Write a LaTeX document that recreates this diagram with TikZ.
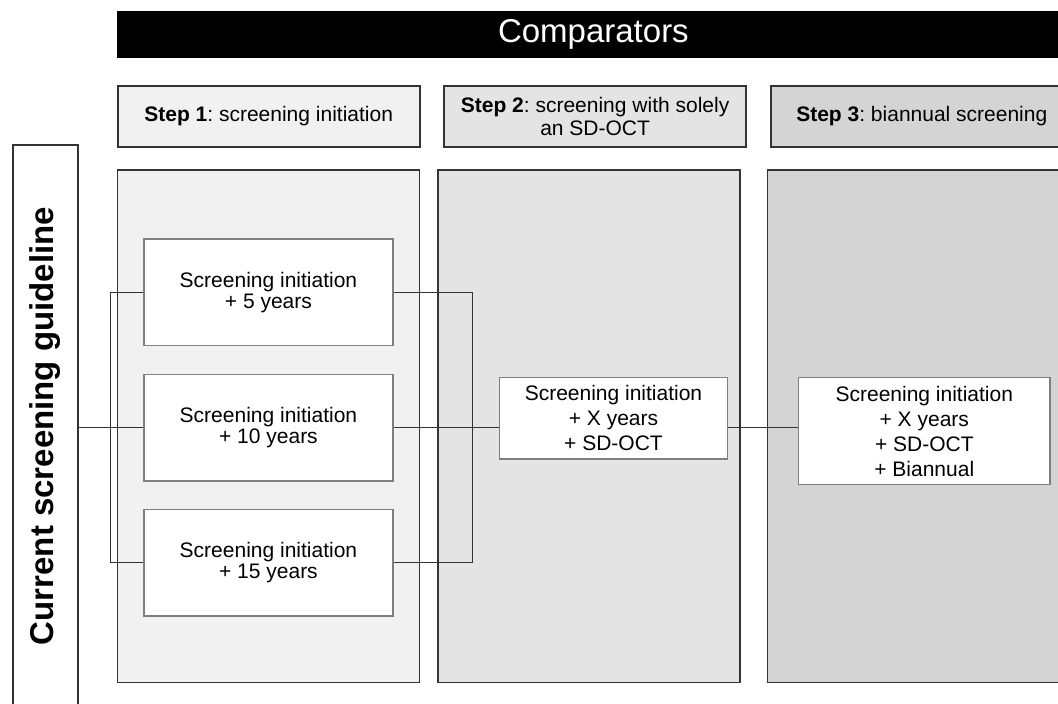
\documentclass[tikz,border=0pt]{standalone}
\usepackage{fontspec}
\setmainfont{Liberation Sans}
\frenchspacing
\usetikzlibrary{positioning}
\definecolor{stepone}{HTML}{F1F1F1}
\definecolor{steptwo}{HTML}{E4E4E4}
\definecolor{stepthree}{HTML}{D4D4D4}
\definecolor{edge}{HTML}{333333}
\definecolor{inneredge}{HTML}{7F7F7F}
\tikzset{head/.style={draw=edge, line width=2pt, inner sep=0pt,
    minimum width=302pt, minimum height=61pt, align=center,
    font=\fontsize{21}{23}\selectfont},
    column/.style={draw=edge, line width=1.6pt, inner sep=0pt,
    minimum width=302pt, minimum height=512.7pt, anchor=north west},
    option/.style={draw=inneredge, line width=1.3pt, fill=white, inner sep=0pt,
    minimum width=249pt, minimum height=106.7pt, align=center,
    font=\fontsize{21}{21}\selectfont},
    link/.style={draw=edge, line width=1.1pt}}

\begin{document}
\begin{tikzpicture}[x=1pt, y=-1pt]
    \useasboundingbox (0,0) rectangle (1058,704);
    \clip (0,0) rectangle (1058,704);
    % columns behind everything
    \node[column, fill=stepone] (c1) at (116.7,169) {};
    \node[column, fill=steptwo] (c2) at (437.3,169) {};
    \node[column, fill=stepthree] (c3) at (766.7,169) {};
    % title bar and step headers
    \node[fill=black, text=white, inner sep=0pt, minimum width=953pt, minimum height=46.3pt,
        anchor=north west, font=\fontsize{33}{33}\selectfont] (comp) at (116.7,11) {Comparators};
    \node[head, fill=stepone, anchor=north west] (h1) at (116.7,85) {\textbf{Step 1}: screening initiation};
    \node[head, fill=steptwo, right=22.4pt of h1] (h2) {\textbf{Step 2}: screening with solely\\an SD-OCT};
    \node[head, fill=stepthree, right=22.7pt of h2] (h3) {\textbf{Step 3}: biannual screening};
    % current guideline
    \node[draw=edge, line width=2pt, minimum width=65pt, minimum height=562pt,
        anchor=north west] (guide) at (12,144) {};
    \node[rotate=90, font=\bfseries\fontsize{33}{33}\selectfont] (guidetext) at (guide.center) {Current screening guideline};
    % options
    \node[option, anchor=north west] (t5) at (143.3,238.3) {Screening initiation\\+ 5 years};
    \node[option, below=27.3pt of t5] (t10) {Screening initiation\\+ 10 years};
    \node[option, below=27pt of t10] (t15) {Screening initiation\\+ 15 years};
    \node[option, anchor=north west, minimum width=228.3pt, minimum height=81.6pt,
        font=\fontsize{21}{25}\selectfont] (oct) at (498.7,376.7) {Screening initiation\\+ X years\\+ SD-OCT};
    \node[option, anchor=north west, minimum width=251.3pt, minimum height=107.3pt,
        font=\fontsize{21}{25}\selectfont] (bi) at (798,376.7) {Screening initiation\\+ X years\\+ SD-OCT\\+ Biannual};
    % connectors
    \coordinate[left=32.6pt of t10.west] (lsplit);
    \coordinate[right=78.7pt of t10.east] (rsplit);
    \draw[link] (guide.east |- t10.west) -- (t10.west);
    \draw[link] (t5.west) -| (lsplit) |- (t15.west);
    \draw[link] (t5.east) -| (rsplit) |- (t15.east);
    \draw[link] (t10.east) -- (t10.east -| oct.west);
    \draw[link] (oct.east |- t10.east) -- (bi.west |- t10.east);
\end{tikzpicture}
\end{document}
